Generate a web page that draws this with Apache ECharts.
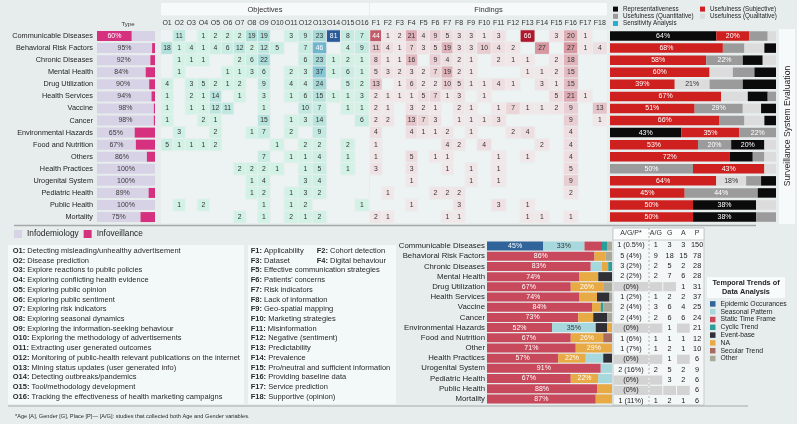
<!DOCTYPE html>
<html><head><meta charset="utf-8">
<script src="https://cdn.jsdelivr.net/npm/echarts@6/dist/echarts.min.js"></script>
<style>html,body{margin:0;padding:0;background:#e7eded;}#c{width:797px;height:424px;}</style>
</head><body><div id="c"></div>
<script>
// ---------------- DATA ----------------
const categories = ['Communicable Diseases','Behavioral Risk Factors','Chronic Diseases','Mental Health','Drug Utilization','Health Services','Vaccine','Cancer','Environmental Hazards','Food and Nutrition','Others','Health Practices','Urogenital System','Pediatric Health','Public Health','Mortality'];
const temporalCategories = ['Communicable Diseases','Behavioral Risk Factors','Chronic Diseases','Mental Health','Drug Utilization','Health Services','Vaccine','Cancer','Environmental Hazards','Food and Nutrition','Other','Health Practices','Urogenital System','Pediatric Health','Public Health','Mortality'];

const typeNames = ['Infodemiology','Infoveillance'];
const infodemiology = [40,95,92,84,90,94,98,98,65,67,86,100,100,89,100,75];
const infoveillance = [60,5,8,16,10,6,2,2,35,33,14,0,0,11,0,25];

const objectiveLabels = ['O1','O2','O3','O4','O5','O6','O7','O8','O9','O10','O11','O12','O13','O14','O15','O16'];
const findingLabels = ['F1','F2','F3','F4','F5','F6','F7','F8','F9','F10','F11','F12','F13','F14','F15','F16','F17','F18'];

const objectives = [
 [0,11,0,1,2,2,2,19,19,0,3,9,23,81,8,7],
 [18,1,4,1,4,6,12,2,12,5,0,7,46,0,4,9],
 [0,1,1,1,0,0,2,6,22,0,0,6,23,1,2,1],
 [0,1,0,0,0,1,1,3,6,0,2,3,37,1,6,1],
 [4,0,3,5,2,1,2,0,9,0,4,4,24,0,5,2],
 [1,0,2,1,14,0,1,0,3,0,1,6,15,1,1,3],
 [1,0,1,1,12,11,0,0,1,0,0,10,7,0,1,1],
 [1,0,0,2,1,0,0,0,15,0,1,3,14,0,0,6],
 [0,3,0,0,2,0,0,1,7,0,2,0,9,0,0,0],
 [5,1,1,1,2,0,0,0,0,1,0,2,2,0,2,0],
 [0,0,0,0,0,0,0,0,7,0,1,1,4,0,1,0],
 [0,0,0,0,0,0,2,2,2,1,0,1,5,0,1,0],
 [0,0,0,0,0,0,0,1,4,0,0,3,4,0,0,0],
 [0,0,0,0,0,0,0,1,2,0,1,3,2,0,0,0],
 [0,1,0,2,0,0,0,0,1,0,1,2,0,0,0,1],
 [0,0,0,0,0,0,2,0,1,0,2,1,2,0,0,0]
];
const findings = [
 [44,1,2,21,4,9,5,3,3,1,3,0,66,0,3,20,1,0],
 [11,4,1,7,3,5,19,3,3,10,4,2,0,27,0,27,1,4],
 [8,1,1,16,0,9,4,2,1,0,2,1,1,0,2,18,0,0],
 [5,3,2,3,2,7,19,2,1,0,0,0,1,1,2,15,0,0],
 [13,0,1,6,2,2,10,5,1,1,4,1,0,3,1,15,0,0],
 [2,1,1,1,5,7,1,3,0,1,0,0,0,0,5,21,1,0],
 [2,1,0,3,2,1,0,2,1,0,1,7,1,1,2,9,0,13],
 [2,2,0,13,7,3,0,1,1,1,3,0,0,0,0,9,0,1],
 [4,0,0,4,1,1,2,0,1,0,0,2,4,0,0,4,0,0],
 [1,0,0,0,0,0,4,2,0,4,0,0,0,2,0,4,0,0],
 [1,0,0,5,0,1,1,0,0,0,1,0,1,0,0,4,0,0],
 [3,0,0,3,0,0,1,0,1,0,1,0,0,0,0,5,0,0],
 [0,0,0,1,0,0,0,0,1,0,1,0,0,0,0,9,0,0],
 [0,1,0,0,0,2,2,2,0,0,0,0,0,0,0,2,0,0],
 [0,0,0,1,0,0,0,3,0,0,3,0,1,0,0,0,0,0],
 [2,1,0,0,0,0,1,1,0,0,0,0,1,1,0,1,0,0]
];

const evalNames = ['Usefulness (Subjective)','Usefulness (Quantitative)','Usefulness (Qualitative)','Representativeness'];
const evalSubjective        = [20,68,58,60,39,67,51,66,35,53,72,43,64,45,50,50];
const evalQuantitative      = [11,13,22,13,20,5,29,15,22,20,7,50,9,44,0,12];
const evalQualitative       = [5,12,8,14,21,16,11,12,0,7,7,7,18,0,12,0];
const evalRepresentativeness= [64,7,12,13,20,12,9,7,43,20,14,0,9,11,38,38];
const evalUnlabeled = [[4,'Usefulness (Quantitative)'],[4,'Representativeness']];

const temporalNames = ['Epidemic Occurances','Seasonal Pattern','Static Time Frame','Cyclic Trend','Event-base','NA','Secular Trend','Other'];
const tEpidemic = [45,0,0,0,0,0,0,0,0,0,0,0,0,0,0,0];
const tSeasonal = [33,0,9,0,0,0,0,0,35,0,0,14,9,11,0,0];
const tStatic   = [14,86,83,74,67,74,84,73,52,67,71,57,91,67,88,87];
const tCyclic   = [4,0,3,0,0,0,2,0,0,0,0,0,0,0,0,0];
const tEvent    = [0,0,0,11,0,10,0,11,9,0,0,7,0,0,0,0];
const tNA       = [0,9,5,15,26,14,7,12,4,26,29,22,0,22,12,13];
const tSecular  = [0,0,0,0,0,0,0,0,0,7,0,0,0,0,0,0];
const tOther    = [4,5,0,0,7,2,7,4,0,0,0,0,0,0,0,0];

const tableHead1 = ['A/G/P*'];
const tableHead2 = ['A/G','G','A','P'];
const agpText = ['1 (0.5%)','5 (4%)','3 (2%)','2 (2%)','(0%)','1 (2%)','2 (4%)','2 (4%)','(0%)','1 (6%)','1 (7%)','(0%)','2 (16%)','(0%)','(0%)','1 (11%)'];
const agCol = [1,9,2,2,null,1,3,2,null,1,1,null,2,null,null,1];
const gCol  = [3,18,5,7,null,2,6,6,1,1,2,1,5,3,null,2];
const aCol  = [3,15,2,6,1,2,4,6,null,1,1,null,2,2,null,1];
const pCol  = [150,78,28,28,31,37,25,24,21,12,10,6,9,6,6,6];

const objectiveDefs = ['Detecting misleading/unhealthy advertisement','Disease prediction','Explore reactions to public policies','Exploring conflicting health evidence','Exploring public opinion','Exploring public sentiment','Exploring risk indicators','Exploring seasonal dynamics','Exploring the information-seeking behaviour','Exploring the methodology of advertisements','Extracting user generated outcomes','Monitoring of public-health relevant publications on the internet','Mining status updates (user generated info)','Detecting outbreaks/pandemics','Tool/methodology development','Tracking the effectiveness of health marketing campaigns'];
const findingDefs = ['Applicability','Cohort detection','Dataset','Digital behaviour','Effective communication strategies',"Patients' concerns",'Risk indicators','Lack of information','Geo-spatial mapping','Marketing strategies','Misinformation','Negative (sentiment)','Predictability','Prevalence','Pro/neutral and sufficient information','Providing baseline data','Service prediction','Supportive (opinion)'];
const footnote = '*Age [A], Gender [G], Place [P]\u2014 [A/G]: studies that collected both Age and Gender variables.';

// ---------------- STYLE ----------------
const FF = '"Liberation Sans", Arial, Helvetica, sans-serif';
const typeColors = {'Infodemiology':'#d8d2e6','Infoveillance':'#d6317f'};
const evalColors = {'Representativeness':'#0b0b0b','Usefulness (Subjective)':'#cf2020','Usefulness (Quantitative)':'#9b9b9b','Usefulness (Qualitative)':'#dcdcdc','Sensitivity Analysis':'#2aaed0'};
const tempColors = {'Epidemic Occurances':'#30649a','Seasonal Pattern':'#a7d8dd','Static Time Frame':'#c8495c','Cyclic Trend':'#2b9e9b','Event-base':'#2f2f35','NA':'#e7aa44','Secular Trend':'#a96a5f','Other':'#aaa999'};

const ROWS_TOP = 30, ROWS_H = 193.1;
const grids = [
  {left:97, top:ROWS_TOP, width:58, height:ROWS_H},
  {left:161, top:ROWS_TOP, width:109, height:ROWS_H, show:true, backgroundColor:'#edf2f2', borderWidth:0},
  {left:270, top:ROWS_TOP, width:99, height:ROWS_H, show:true, backgroundColor:'#edf2f2', borderWidth:0},
  {left:370, top:ROWS_TOP, width:107, height:ROWS_H, show:true, backgroundColor:'#edf2f2', borderWidth:0},
  {left:477, top:ROWS_TOP, width:130, height:ROWS_H, show:true, backgroundColor:'#edf2f2', borderWidth:0},
  {left:610, top:ROWS_TOP, width:166, height:ROWS_H},
  {left:487, top:241, width:125, height:163},
  {left:613, top:240, width:36, height:166},
  {left:649, top:240, width:55, height:166}
];

const xAxes = [], yAxes = [];
function valX(g){ return {type:'value', gridIndex:g, min:0, max:100, show:false}; }
function catX(g, labels, fs){ return {type:'category', gridIndex:g, data:labels, position:'top', z:10,
  axisLine:{show:false}, axisTick:{show:false}, splitLine:{show:false},
  axisLabel:{interval:0, fontSize:fs||7, color:'#333', margin:3, fontFamily:FF}}; }
function catY(g, labels, showLabels, fs, margin){ return {type:'category', gridIndex:g, data:labels, inverse:true,
  axisLine:{show:false}, axisTick:{show:false}, splitLine:{show:false},
  axisLabel:{show:!!showLabels, interval:0, fontSize:fs||7, color:'#1e1e1e', margin:margin||3, fontFamily:FF}}; }

xAxes.push(valX(0)); yAxes.push(catY(0, categories, true, 7.3, 4));
xAxes.push(catX(1, objectiveLabels.slice(0,9))); yAxes.push(catY(1, categories));
xAxes.push(catX(2, objectiveLabels.slice(9))); yAxes.push(catY(2, categories));
xAxes.push(catX(3, findingLabels.slice(0,9))); yAxes.push(catY(3, categories));
xAxes.push(catX(4, findingLabels.slice(9))); yAxes.push(catY(4, categories));
xAxes.push(valX(5)); yAxes.push(catY(5, categories));
xAxes.push(valX(6)); yAxes.push(catY(6, temporalCategories, true, 7.8, 2));
xAxes.push(catX(7, tableHead1, 7)); yAxes.push(catY(7, categories));
xAxes.push(catX(8, tableHead2, 7)); yAxes.push(catY(8, categories));

const series = [];

function rankedBars(names, dataByName, colors, axis, barWidth, stack, sorter, labelFn){
  const ranked = categories.map((_, r) => {
    const segs = names.map((n,k) => ({name:n, v:dataByName[n][r], k})).filter(s => s.v > 0);
    segs.sort(sorter);
    return segs;
  });
  const maxK = Math.max(...ranked.map(s => s.length));
  for (let k = 0; k < maxK; k++) {
    series.push({type:'bar', stack, xAxisIndex:axis, yAxisIndex:axis, barWidth, silent:true,
      data: ranked.map((segs, r) => {
        const s = segs[k];
        if (!s) return '-';
        return {value:s.v, itemStyle:{color:colors[s.name]}, label:labelFn(s, r, k)};
      })});
  }
}
function legendDummies(names, colors, axis, stack, barWidth){
  names.forEach(n => series.push({type:'bar', name:n, stack, barWidth, xAxisIndex:axis, yAxisIndex:axis, data:[], itemStyle:{color:colors[n]}}));
}
const descSort = (a,b) => (b.v - a.v) || (a.k - b.k);

rankedBars(typeNames, {'Infodemiology':infodemiology, 'Infoveillance':infoveillance}, typeColors, 0, 10, 'type', descSort,
  (s, r, k) => ({show:k===0, position:'inside', formatter:s.v+'%', fontSize:7, fontFamily:FF,
    color: s.name==='Infoveillance' ? '#fff' : '#3a3a3a'}));
legendDummies(typeNames, typeColors, 0, 'type', 10);

function heatData(matrix, c0, c1){
  const out = [];
  matrix.forEach((row, r) => { for (let c = c0; c < c1; c++) { const v = row[c]; if (v > 0) out.push({value:[c-c0, r, v], label:{color: v >= 40 ? '#fff' : '#333'}}); } });
  return out;
}
const heatBase = {type:'heatmap', label:{show:true, fontSize:6.8, fontFamily:FF}, itemStyle:{borderColor:'#e9efef', borderWidth:1}, emphasis:{disabled:true}, silent:true};
const heatIdx = {};
heatIdx.o1 = series.length; series.push(Object.assign({}, heatBase, {xAxisIndex:1, yAxisIndex:1, data:heatData(objectives,0,9)}));
heatIdx.o2 = series.length; series.push(Object.assign({}, heatBase, {xAxisIndex:2, yAxisIndex:2, data:heatData(objectives,9,16)}));
heatIdx.f1 = series.length; series.push(Object.assign({}, heatBase, {xAxisIndex:3, yAxisIndex:3, data:heatData(findings,0,9)}));
heatIdx.f2 = series.length; series.push(Object.assign({}, heatBase, {xAxisIndex:4, yAxisIndex:4, data:heatData(findings,9,18)}));

const evalData = {'Usefulness (Subjective)':evalSubjective,'Usefulness (Quantitative)':evalQuantitative,'Usefulness (Qualitative)':evalQualitative,'Representativeness':evalRepresentativeness};
rankedBars(evalNames, evalData, evalColors, 5, 9.5, 'eval', descSort,
  (s, r) => ({show: s.v >= 18 && !evalUnlabeled.some(u => u[0]===r && u[1]===s.name), position:'inside', formatter:s.v+'%', fontSize:7, fontFamily:FF,
    color: s.name==='Usefulness (Qualitative)' ? '#333' : '#fff'}));
legendDummies(['Representativeness','Usefulness (Subjective)','Usefulness (Quantitative)','Usefulness (Qualitative)','Sensitivity Analysis'], evalColors, 5, 'eval', 9.5);

const tData = {'Epidemic Occurances':tEpidemic,'Seasonal Pattern':tSeasonal,'Static Time Frame':tStatic,'Cyclic Trend':tCyclic,'Event-base':tEvent,'NA':tNA,'Secular Trend':tSecular,'Other':tOther};
const tSort = (a,b) => ((a.name==='Other') - (b.name==='Other')) || (b.v - a.v) || (a.k - b.k);
rankedBars(temporalNames, tData, tempColors, 6, 9, 'temp', tSort,
  (s) => ({show: s.v >= 20, position:'inside', formatter:s.v+'%', fontSize:7, fontFamily:FF,
    color: s.name==='Seasonal Pattern' ? '#333' : '#fff'}));
legendDummies(temporalNames, tempColors, 6, 'temp', 9);

const cells1 = agpText.map((t, r) => ({x:0, y:r, text:t, gray:t.charAt(0)==='('}));
const cells2 = [];
[agCol, gCol, aCol, pCol].forEach((col, c) => col.forEach((v, r) => cells2.push({x:c, y:r, text:v, gray:v===null})));
function tableRender(cells){
  return function(params, api){
    const cell = cells[params.dataIndex];
    const p = api.coord([api.value(0), api.value(1)]);
    const s = api.size([1, 1]);
    const ch = [];
    if (cell.gray) ch.push({type:'rect', shape:{x:p[0]-s[0]/2+0.5, y:p[1]-s[1]/2+0.6, width:s[0]-1, height:s[1]-1.2}, style:{fill:'#d3d3d3'}});
    if (cell.text !== null) ch.push({type:'text', style:{x:p[0], y:p[1], text:String(cell.text), align:'center', verticalAlign:'middle', fill:'#1e1e1e', fontSize:7.3, fontFamily:FF}});
    return {type:'group', children:ch};
  };
}
series.push({type:'custom', xAxisIndex:7, yAxisIndex:7, data:cells1.map(c => [c.x, c.y]), renderItem:tableRender(cells1), silent:true});
series.push({type:'custom', xAxisIndex:8, yAxisIndex:8, data:cells2.map(c => [c.x, c.y]), renderItem:tableRender(cells2), silent:true});

// ---------------- GRAPHIC ----------------
const g = [];
function rect(x,y,w,h,fill,stroke,z){ g.push({type:'rect', shape:{x,y,width:w,height:h}, style:{fill, stroke:stroke||null, lineWidth:stroke?1:0}, z:z||0, silent:true}); }
function txt(x,y,t,opt){ g.push({type:'text', x, y, z:5, silent:true,
  style:Object.assign({text:t, fill:'#2a2a2a', fontSize:7, fontFamily:FF, align:'left', verticalAlign:'middle'}, opt&&opt.style)}); }
function line(x1,y1,x2,y2,stroke,w,dash){ g.push({type:'line', shape:{x1,y1,x2,y2}, style:{stroke, lineWidth:w||1, lineDash:dash||null}, silent:true}); }

rect(161, 3, 208, 12.5, '#f6fafa');
txt(265, 9.5, 'Objectives', {style:{align:'center', fontSize:7.5, fill:'#333'}});
rect(370, 3, 237, 12.5, '#f6fafa');
txt(488.5, 9.5, 'Findings', {style:{align:'center', fontSize:7.5, fill:'#333'}});
txt(128, 24.5, 'Type', {style:{align:'center', fontSize:6, fill:'#333'}});
rect(779, 29, 16, 195, '#f6fafa');
g.push({type:'text', x:787.5, y:126, rotation:Math.PI/2, z:5, silent:true, style:{text:'Surveillance System Evaluation', fill:'#1e1e1e', fontSize:8.6, fontFamily:FF, align:'center', verticalAlign:'middle'}});
line(14, 225.5, 756, 225.5, '#a4a8a8', 1.5);

rect(8, 245, 236, 159, '#f3f8f8');
rect(248, 245, 148, 159, '#f3f8f8');
const DFS = 7.5;
const rich = {b:{fontWeight:'bold', fontSize:DFS, fontFamily:FF, fill:'#2a2a2a'}, n:{fontSize:DFS, fontFamily:FF, fill:'#2a2a2a'}};
const LH = 9.71, L0 = 251;
objectiveLabels.forEach((o, i) => txt(12.7, L0 + LH*i, '{b|' + o + ':}{n| ' + objectiveDefs[i] + '}', {style:{rich}}));
findingLabels.forEach((f, i) => {
  let x, ln;
  if (i < 4) { x = (i % 2 === 0) ? 250.7 : 316.7; ln = Math.floor(i/2); }
  else { x = 250.7; ln = i - 2; }
  txt(x, L0 + LH*ln, '{b|' + f + ':}{n| ' + findingDefs[i] + '}', {style:{rich}});
});
line(8, 406, 748, 406, '#a4a8a8', 1);
txt(15, 416.5, footnote, {style:{fontSize:5.65, fill:'#2a2a2a'}});

rect(613, 228, 91, 177, '#f4f7f7', '#c8cccc', -1);
rect(613, 228, 91, 12, '#fbfdfd', '#c8cccc', -1);
line(649, 228, 649, 405, '#9aa0a0', 0.8, [2,2]);

rect(707, 277, 78, 21, '#f8fbfb');
txt(746, 283.2, 'Temporal Trends of', {style:{align:'center', fontWeight:'bold', fontSize:7.3, fill:'#1e1e1e'}});
txt(746, 292, 'Data Analysis', {style:{align:'center', fontWeight:'bold', fontSize:7.3, fill:'#1e1e1e'}});

// ---------------- OPTION ----------------
const legendBase = {icon:'rect', selectedMode:false, padding:0, orient:'vertical', itemGap:0};
const option = {
  animation:false,
  backgroundColor:'#e7eded',
  textStyle:{fontFamily:FF},
  grid:grids, xAxis:xAxes, yAxis:yAxes,
  visualMap:[
    {type:'continuous', show:false, seriesIndex:[heatIdx.o1, heatIdx.o2], dimension:2, min:1, max:81,
      inRange:{color:['#d3f2e6','#abddd9','#7cc2d3','#4a8fc0','#2b5a9b']}},
    {type:'continuous', show:false, seriesIndex:[heatIdx.f1, heatIdx.f2], dimension:2, min:1, max:66,
      inRange:{color:['#f1e7e9','#dba6ae','#c25a68','#b0172b']}}
  ],
  legend:[
    Object.assign({}, legendBase, {data:typeNames, left:14, top:230, orient:'horizontal', itemWidth:8, itemHeight:8, itemGap:5,
      textStyle:{fontSize:8.3, color:'#1e1e1e', fontFamily:FF}}),
    Object.assign({}, legendBase, {data:['Representativeness','Usefulness (Quantitative)','Sensitivity Analysis'], left:613, top:5.5, itemWidth:5, itemHeight:5,
      textStyle:{fontSize:6.3, lineHeight:7.2, color:'#1e1e1e', fontFamily:FF}}),
    Object.assign({}, legendBase, {data:['Usefulness (Subjective)','Usefulness (Qualitative)'], left:700, top:5.5, itemWidth:5, itemHeight:5,
      textStyle:{fontSize:6.3, lineHeight:7.2, color:'#1e1e1e', fontFamily:FF}}),
    Object.assign({}, legendBase, {data:temporalNames, left:710, top:300, itemWidth:5.5, itemHeight:5.5,
      textStyle:{fontSize:6.8, lineHeight:7.8, color:'#1e1e1e', fontFamily:FF}})
  ],
  graphic:g,
  series
};
const chart = echarts.init(document.getElementById('c'), null, {renderer:'canvas'});
chart.setOption(option);
</script></body></html>
